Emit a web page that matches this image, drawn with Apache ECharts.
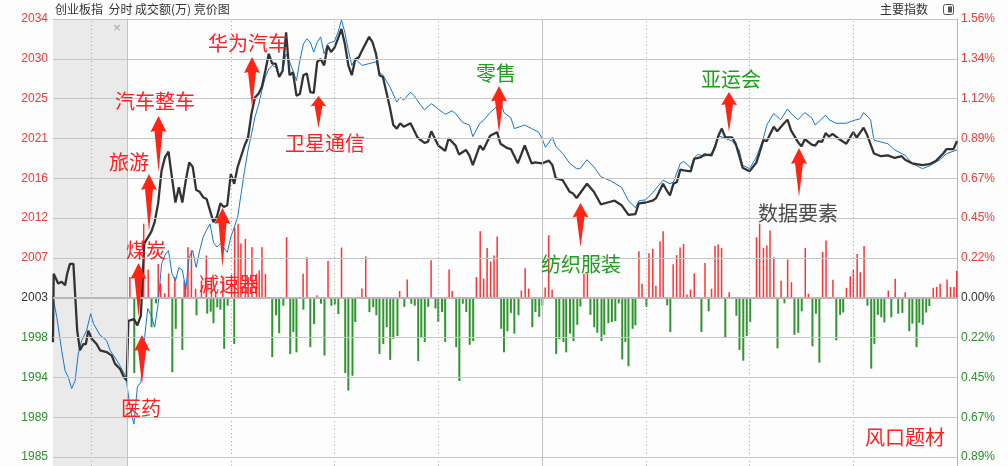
<!DOCTYPE html>
<html><head><meta charset="utf-8">
<script src="https://cdn.jsdelivr.net/npm/echarts/dist/echarts.min.js"></script>
<style>html,body{margin:0;padding:0;background:#fdfdfd}#c{width:1008px;height:466px}</style>
</head><body><div id="c"></div>
<script>
// ---- data (index points, minutes from 9:30; negative = call auction) ----
const BASE = 2003.2;          // previous close
const STEP = 4.473;           // one grid step (0.2233%)
const tickSteps   = [-4,-3,-2,-1,0,1,2,3,4,5,6,7];
const leftLabels  = ['1985','1989','1994','1998','2003','2007','2012','2016','2021','2025','2030','2034'];
const rightLabels = ['0.89%','0.67%','0.45%','0.22%','0.00%','0.22%','0.45%','0.67%','0.89%','1.12%','1.34%','1.56%'];

const indexLine = [
[-21.4,1998.2],[-21.2,2005.9],[-19.9,2004.8],[-18.9,2005.0],[-17.9,2004.6],[-17.3,2005.9],[-16.5,2007.0],[-15.5,2007.0],[-15.0,2003.6],[-14.4,1999.5],[-13.6,1997.3],[-12.6,1998.0],[-11.9,1998.0],[-11.2,1999.5],[-10.2,1998.6],[-8.8,1998.0],[-7.8,1997.3],[-5.9,1997.1],[-4.4,1996.7],[-3.5,1995.8],[-2.0,1995.2],[-0.9,1994.3],[-0.1,1993.9],
[0.4,2000.6],[2,2000.8],[3,2000.1],[4,2001.2],[5,2009.3],[7,2010.6],[8,2011.7],[9,2013.8],[10,2017.5],[11,2019.0],[12,2019.6],[13,2016.7],[14,2013.9],[15,2015.6],[16,2013.9],[17,2016.4],[18,2018.4],[19,2017.9],[20,2015.3],[21,2015.1],[22,2014.5],[23,2014.3],[25,2011.7],[26,2012.3],[27,2013.8],[28,2013.4],[29,2013.6],[30,2017.1],[31,2016.0],[32,2017.9],[34,2020.3],[35,2021.2],[36,2023.9],[37,2025.7],[38,2026.1],[39,2026.9],[40,2028.7],[41,2030.6],[42,2029.5],[43,2029.5],[44,2028.0],[45,2028.7],[46,2033.0],[47,2028.2],[48,2028.5],[49,2025.9],[50,2026.1],[51,2028.2],[52,2028.4],[53,2026.3],[54,2026.2],[55,2029.7],[56,2030.0],[57,2029.3],[58,2031.5],[59,2030.8],[60,2031.3],[61,2032.3],[62,2033.4],[63,2031.7],[64,2029.3],[65,2028.2],[66,2030.0],[67,2030.2],[68,2031.0],[70,2032.5],[71,2031.9],[72,2030.6],[73,2028.2],[74,2028.0],[76,2024.6],[77,2022.6],[78,2022.2],[79,2022.8],[80,2022.4],[82,2022.8],[84,2021.2],[86,2020.6],[87,2020.7],[88,2021.9],[90,2020.3],[92,2019.7],[93,2021.1],[95,2020.3],[96,2019.3],[98,2019.8],[99,2019.2],[100,2018.1],[102,2020.3],[103,2019.8],[105,2021.4],[107,2021.8],[108,2020.5],[110,2020.0],[111,2019.9],[113,2018.3],[115,2020.3],[117,2018.3],[118,2018.4],[120,2018.3],[122,2018.6],[123,2018.1],[124,2016.6],[126,2016.4],[128,2015.1],[129,2014.9],[130,2014.4],[133,2016.0],[135,2015.1],[137,2013.7],[139,2013.9],[141,2014.1],[143,2013.6],[145,2012.5],[147,2012.6],[148,2013.8],[150,2013.9],[152,2014.1],[153,2014.4],[155,2016.0],[156,2015.3],[157,2014.7],[158,2016.0],[159,2016.2],[160,2017.6],[161,2017.5],[163,2017.4],[164,2018.8],[166,2019.0],[167,2019.3],[169,2019.2],[170,2020.1],[171,2021.4],[172,2022.2],[173,2021.2],[175,2021.2],[176,2020.5],[177,2019.2],[178,2017.8],[180,2017.4],[182,2018.4],[183,2019.6],[184,2020.9],[185,2020.8],[187,2022.4],[188,2021.9],[190,2022.8],[191,2023.2],[192,2022.0],[194,2020.7],[195,2020.2],[196,2021.0],[198,2020.4],[199,2020.3],[200,2020.8],[201,2020.7],[202,2021.7],[203,2021.3],[204,2021.6],[206,2021.0],[208,2020.5],[210,2021.8],[211,2021.2],[213,2022.3],[214,2021.5],[216,2019.4],[218,2019.1],[220,2019.2],[222,2018.9],[224,2019.1],[225,2018.7],[227,2018.3],[230,2018.1],[232,2018.2],[234,2018.6],[236,2019.4],[237,2019.9],[239,2019.9],[240,2020.8]
];

const refLine = [
[-21.4,2003.3],[-20.3,2001.0],[-18.9,1997.3],[-17.9,1995.0],[-17.0,1994.3],[-16.0,1993.0],[-15.0,1993.9],[-14.1,1996.9],[-13.1,1998.4],[-11.7,1999.5],[-10.5,2001.4],[-9.7,2000.3],[-7.8,1999.0],[-5.9,1998.4],[-4.9,1997.3],[-3.0,1996.2],[-1.5,1995.2],[-0.3,1994.3],
[0,1994.1],[1,1990.5],[2,1989.0],[3,1993.2],[4,1993.7],[5,1998.4],[6,2002.0],[7,2001.2],[8,1999.9],[9,2002.5],[10,2007.0],[11,2008.0],[12,2008.5],[13,2005.9],[14,2005.1],[15,2006.6],[16,2006.3],[17,2004.2],[18,2007.8],[19,2008.5],[20,2006.6],[21,2008.5],[22,2010.0],[23,2010.8],[24,2011.5],[25,2009.4],[26,2008.9],[27,2009.3],[29,2008.3],[30,2010.0],[31,2011.1],[32,2012.3],[33,2014.9],[34,2017.5],[35,2019.8],[36,2021.6],[37,2023.5],[38,2024.8],[39,2026.5],[40,2028.0],[41,2028.9],[42,2029.3],[43,2029.1],[44,2028.0],[45,2028.7],[46,2030.6],[47,2029.7],[48,2028.7],[49,2027.6],[50,2029.9],[51,2031.7],[52,2032.3],[53,2031.9],[54,2030.8],[55,2031.9],[56,2032.5],[57,2030.6],[58,2031.7],[59,2031.9],[60,2032.0],[61,2033.0],[62,2034.4],[63,2033.0],[64,2031.0],[65,2029.3],[66,2030.0],[68,2029.3],[70,2029.5],[72,2029.7],[73,2028.5],[74,2028.2],[76,2026.9],[78,2025.2],[79,2025.7],[80,2025.4],[82,2026.3],[83,2025.9],[85,2024.8],[86,2024.3],[88,2025.0],[90,2024.4],[92,2023.8],[94,2024.2],[95,2023.9],[97,2022.9],[99,2022.6],[100,2021.3],[102,2022.8],[103,2023.1],[105,2024.0],[107,2024.7],[108,2025.4],[109,2024.0],[111,2023.4],[112,2022.2],[115,2022.6],[117,2022.2],[119,2021.8],[120,2021.1],[121,2020.1],[123,2021.2],[124,2020.2],[126,2019.4],[128,2018.3],[130,2017.7],[131,2017.7],[133,2018.7],[135,2017.9],[137,2016.8],[140,2016.3],[143,2015.6],[145,2014.1],[147,2013.3],[148,2014.1],[150,2014.2],[152,2015.0],[155,2016.4],[157,2016.0],[158,2016.2],[160,2018.3],[161,2018.5],[163,2017.8],[164,2018.9],[165,2019.3],[167,2019.1],[169,2019.4],[170,2020.3],[171,2021.4],[173,2021.1],[175,2020.8],[177,2019.8],[178,2018.1],[180,2017.7],[182,2019.0],[184,2021.1],[185,2022.6],[187,2023.9],[189,2023.2],[191,2024.4],[192,2023.9],[194,2023.2],[196,2024.0],[198,2023.4],[199,2022.6],[202,2023.7],[203,2023.2],[205,2022.8],[208,2022.8],[210,2023.1],[212,2023.3],[213,2024.0],[215,2023.2],[216,2020.9],[218,2020.7],[220,2020.5],[222,2019.8],[225,2019.2],[227,2018.3],[230,2017.7],[232,2018.0],[235,2018.7],[237,2019.4],[240,2019.8]
];

const upBars = [
[0.9,52],[4.9,186],[6.2,71],[9.1,85],[9.8,36],[11.0,11],[12.1,61],[13.9,52],[16.6,43],[17.0,36],[17.7,127],[18.7,119],[19.9,23],[21.6,43],[23.0,106],[24.5,52],[25.7,14],[27.8,48],[30.3,36],[31.2,177],[32.2,186],[33.0,136],[34.3,148],[35.1,52],[36.2,127],[37.5,60],[38.3,69],[39.1,127],[40.1,60],[46.2,152],[51.0,60],[52.1,102],[55.0,6],[58.2,92],[62.1,126],[68.0,23],[69.1,104],[78.9,17],[81.1,46],[88.0,94],[93.2,71],[94.1,17],[101.1,52],[102.2,167],[103.2,48],[104.2,125],[105.2,91],[106.2,106],[107.1,154],[114.1,18],[115.2,74],[116.2,23],[121.0,26],[122.0,157],[123.0,20],[132.2,60],[133.2,60],[148.1,117],[149.0,35],[151.0,112],[152.1,123],[153.0,30],[154.2,141],[155.1,167],[158.0,84],[159.0,107],[160.0,126],[161.0,135],[162.0,8],[163.0,20],[164.1,61],[167.2,87],[169.1,23],[170.1,130],[171.0,134],[172.0,125],[174.2,14],[182.1,152],[183.0,186],[184.1,125],[185.1,131],[186.0,169],[187.1,102],[189.2,43],[191.1,96],[192.2,39],[196.2,125],[197.1,10],[201.2,115],[202.2,144],[204.2,45],[208.1,25],[209.2,54],[210.1,70],[211.2,110],[212.1,64],[213.2,130],[220.2,18],[222.2,48],[225.1,14],[233.2,25],[234.2,27],[235.2,35],[237.2,46],[238.2,27],[239.2,27],[240,67]
];

const downBars = [
[2.1,-189],[7.1,-74],[8.4,-14],[13.1,-187],[14.1,-78],[16.0,-131],[20.1,-44],[23.2,-40],[24.2,-35],[25.0,-64],[26.1,-24],[27.0,-30],[28.1,-128],[29.1,-20],[31.0,-116],[42.0,-149],[43.1,-44],[44.0,-89],[45.2,-20],[47.2,-141],[48.1,-86],[49.0,-137],[51.0,-30],[53.0,-124],[54.1,-66],[56.1,-15],[57.1,-145],[59.1,-20],[60.1,-17],[61.1,-41],[63.1,-189],[64.0,-233],[65.2,-196],[66.0,-61],[70.1,-36],[71.2,-24],[72.1,-44],[73.0,-141],[74.1,-116],[75.1,-74],[76.1,-156],[77.0,-103],[78.2,-96],[80.2,-23],[82.2,-15],[83.2,-20],[84.2,-159],[85.1,-101],[86.1,-111],[87.1,-23],[89.2,-27],[90.0,-61],[91.1,-36],[92.0,-111],[95.2,-124],[96.1,-209],[97.1,-15],[98.1,-36],[99.1,-118],[100.1,-109],[108.2,-78],[109.0,-137],[110.0,-84],[111.0,-38],[112.0,-90],[113.2,-44],[117.2,-74],[118.1,-36],[119.2,-48],[120.1,-20],[124.1,-141],[125.0,-104],[126.2,-111],[127.0,-137],[128.1,-90],[129.1,-109],[130.2,-68],[131.1,-22],[134.0,-43],[135.1,-74],[136.0,-88],[137.2,-109],[138.0,-93],[139.2,-64],[140.2,-61],[141.2,-59],[142.2,-14],[143.2,-155],[144.1,-111],[145.0,-172],[146.2,-78],[147.0,-69],[150.2,-23],[156.2,-19],[157.1,-86],[166.1,-86],[168.2,-34],[173.0,-101],[176.2,-45],[177.1,-131],[178.2,-158],[179.2,-96],[180.2,-61],[188.1,-127],[190.1,-14],[193.0,-93],[194.1,-88],[195.1,-34],[198.2,-122],[199.2,-40],[200.2,-163],[205.1,-107],[206.2,-43],[207.1,-37],[214.1,-20],[215.2,-178],[216.1,-116],[217.1,-43],[218.1,-49],[219.0,-62],[221.0,-49],[223.0,-40],[224.2,-38],[226.2,-84],[227.1,-65],[228.3,-124],[229.1,-63],[230.1,-68],[231.1,-37],[232.0,-21]
];

const dottedTimes = [-10.4, 30, 60, 90, 150, 180, 210];
const solidTimes = [0, 120];

const notes = ['医药','煤炭','旅游','汽车整车','华为汽车','卫星通信','减速器','零售','纺织服装','亚运会','数据要素','风口题材'];

// ---- chart ----
const toU = p => (p - BASE) / STEP;
const RED = '#f03a3a', GREEN = '#2c8e2c', DARK = '#333';
const labelColor = v => v > 0 ? RED : (v < 0 ? GREEN : DARK);
const FONT_NUM = 'Arial, "Liberation Sans", sans-serif';
const FONT_CJK = '"Noto Sans CJK SC", "Noto Sans", sans-serif';

const chart = echarts.init(document.getElementById('c'), null, {renderer: 'canvas'});

const vLines = [];
dottedTimes.forEach(t => vLines.push({xAxis: t, label: {show: false}, lineStyle: {type: [1, 3], color: '#a8a8a8', width: 1}}));
solidTimes.forEach(t => vLines.push({xAxis: t, label: {show: false}, lineStyle: {type: 'solid', color: '#c2c2c2', width: 1}}));

const leftGrid = tickSteps.map((v, i) => ({
  yAxis: v,
  lineStyle: v === 0 ? {type: 'solid', color: '#b8b8b8', width: 2} : {type: 'solid', color: '#c6c6c6', width: 1},
  label: {show: true, position: 'start', distance: 5, formatter: leftLabels[i], color: labelColor(v),
          fontSize: 12, fontFamily: FONT_NUM}
}));
const rightGrid = tickSteps.map((v, i) => ({
  yAxis: v,
  lineStyle: {color: 'rgba(0,0,0,0)', width: 1, type: 'solid'},
  label: {show: true, position: 'end', distance: 4, formatter: rightLabels[i], color: labelColor(v),
          fontSize: 12, fontFamily: FONT_NUM}
}));

const annoLayout = [
  {ax:142, at:335, ab:384, tx:141, ty:408, c:'#ff2020'},
  {ax:138.5, at:263, ab:317, tx:146, ty:250, c:'#ff2020'},
  {ax:149, at:174, ab:232, tx:129, ty:162, c:'#ff2020'},
  {ax:158.5, at:116, ab:172, tx:155, ty:101, c:'#ff2020'},
  {ax:252, at:57, ab:107, tx:248, ty:43, c:'#ff2020'},
  {ax:318.5, at:96, ab:128, tx:325, ty:143, c:'#ff2020'},
  {ax:222.5, at:208, ab:267, tx:229, ty:284, c:'#ff2020'},
  {ax:499, at:86, ab:133, tx:496, ty:73, c:'#1ea01e'},
  {ax:580.5, at:203, ab:247, tx:581, ty:264, c:'#1ea01e'},
  {ax:729, at:92, ab:132, tx:731, ty:79, c:'#1ea01e'},
  {ax:799, at:148, ab:197, tx:798, ty:213, c:'#4a4a4a'},
  {ax:null, tx:905, ty:437, c:'#ff2020'}
];

const graphics = [
  {type:'text', style:{text:'创业板指  分时 成交额(万) 竞价图', x:55, y:9, fill:'#333', font:'12px ' + FONT_CJK, align:'left', verticalAlign:'middle', textAlign:'left', textVerticalAlign:'middle'}},
  {type:'text', style:{text:'主要指数', x:880, y:9, fill:'#333', font:'12px ' + FONT_CJK, align:'left', verticalAlign:'middle', textAlign:'left', textVerticalAlign:'middle'}},
  {type:'rect', shape:{x:943.5, y:4.5, width:10, height:10, r:2}, style:{fill:'#fff', stroke:'#555', lineWidth:1}},
  {type:'rect', shape:{x:948, y:6.5, width:4, height:6}, style:{fill:'#555'}},
  {type:'text', style:{text:'×', x:117, y:28, fill:'#b0b0b0', font:'13px ' + FONT_NUM, align:'center', verticalAlign:'middle', textAlign:'center', textVerticalAlign:'middle'}}
];
annoLayout.forEach((a, i) => {
  if (a.ax !== null) {
    const hh = Math.min(16, (a.ab - a.at) * 0.33), hw = 8, sw = 4;
    graphics.push({type:'polygon', z: 100, shape:{points:[
      [a.ax, a.at], [a.ax + hw, a.at + hh], [a.ax + sw, a.at + hh - 1],
      [a.ax, a.ab], [a.ax - sw, a.at + hh - 1], [a.ax - hw, a.at + hh]
    ]}, style:{fill:'#ff2414'}});
  }
  graphics.push({type:'text', z: 100, style:{text: notes[i], x:a.tx, y:a.ty, fill:a.c, font:'20px ' + FONT_CJK,
    align:'center', verticalAlign:'middle', textAlign:'center', textVerticalAlign:'middle'}});
});

const option = {
  backgroundColor: '#fdfdfd',
  animation: false,
  grid: {left: 53, right: 51, top: 19, bottom: 0, outerBoundsMode: 'none', containLabel: false},
  xAxis: {type: 'value', min: -21.4, max: 240,
    axisLine: {show: false}, axisTick: {show: false}, axisLabel: {show: false}, splitLine: {show: false}},
  yAxis: [
    {type: 'value', min: -4.225, max: 7, position: 'left',
      axisLine: {show: true, lineStyle: {color: '#b4b4b4'}}, axisTick: {show: false},
      splitLine: {show: false}, axisLabel: {show: false}},
    {type: 'value', min: -4.225, max: 7, position: 'right',
      axisLine: {show: true, lineStyle: {color: '#b4b4b4'}}, axisTick: {show: false},
      splitLine: {show: false}, axisLabel: {show: false}},
    {type: 'value', min: -422.5, max: 700, show: false}
  ],
  series: [
    {type: 'line', name: 'grid', data: [], z: 1, silent: true,
      markArea: {silent: true, itemStyle: {color: 'rgba(0,0,0,0.075)'}, data: [[{xAxis: -21.4}, {xAxis: 0}]]},
      markLine: {silent: true, symbol: ['none', 'none'], animation: false, data: vLines.concat(leftGrid)}},
    {type: 'line', name: 'rgrid', data: [], z: 1, silent: true,
      markLine: {silent: true, symbol: ['none', 'none'], animation: false, data: rightGrid}},
    {type: 'bar', name: 'up', yAxisIndex: 2, data: upBars, barWidth: 1.5, barGap: '-100%', z: 2,
      itemStyle: {color: '#ff3333'}, silent: true},
    {type: 'bar', name: 'down', yAxisIndex: 2, data: downBars, barWidth: 2, barGap: '-100%', z: 2,
      itemStyle: {color: '#2f962f'}, silent: true},
    {type: 'line', name: 'ref', data: refLine.map(d => [d[0], toU(d[1])]), showSymbol: false, z: 3,
      lineStyle: {color: '#1577d0', width: 1}, silent: true},
    {type: 'line', name: 'idx', data: indexLine.map(d => [d[0], toU(d[1])]), showSymbol: false, z: 4,
      lineStyle: {color: '#333333', width: 2.3}, silent: true}
  ],
  graphic: {elements: graphics}
};
chart.setOption(option);
</script></body></html>
